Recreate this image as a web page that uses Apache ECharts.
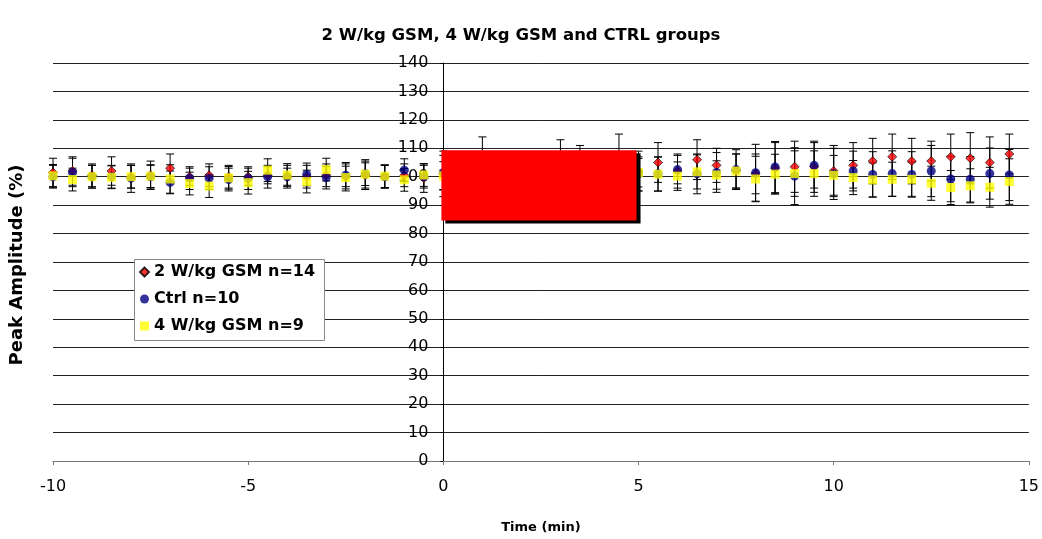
<!DOCTYPE html>
<html>
<head>
<meta charset="utf-8">
<script src="https://cdn.jsdelivr.net/npm/echarts@6/dist/echarts.min.js"></script>
<style>
html,body{margin:0;padding:0;background:#fff;}
#chart{width:1042px;height:539px;}
</style>
</head>
<body>
<div id="chart"></div>
<script>
// ---- data ----
const times = [-10,-9.5,-9,-8.5,-8,-7.5,-7,-6.5,-6,-5.5,-5,-4.5,-4,-3.5,-3,-2.5,-2,-1.5,-1,-0.5,
               0,0.5,1,1.5,2,2.5,3,3.5,4,4.5,5,5.5,6,6.5,7,7.5,8,8.5,9,9.5,
               10,10.5,11,11.5,12,12.5,13,13.5,14,14.5];
const gsm2 = [101.5,102,100.5,102,100,100.5,103,100,100.5,100,100,100.5,100,100,100.5,100,100.5,100,100.5,99.5,
              101,102,104,101,101,102,104,103,102,105,102,105,102,106,104,102,101,103,103.5,103.5,
              102,104,105.5,107,105.5,105.5,107,106.5,105,108];
const gsm2Err = [5,5,4,5,4,5,5,3,4,4,3,3,3,4,4,5,5,4,4,5,
                 8,6,10,5,6,6,9,8,6,10,7,7,6,7,6,6,7,9,9,9,
                 9,8,8,8,8,7,8,9,9,7];
const ctrl = [100,101.5,100,100,99.5,100,98,99.5,99.5,99,99.5,100,100,100.8,99.7,100.5,101,100,102.3,100,
              101.5,100,101,100.5,101,100,101.5,100.5,101,100.5,101,101,102.5,101,101.5,102.5,101.4,103.4,100.2,104,
              101,102,100.8,101.1,100.8,102,99.2,99.1,101.1,100.6];
const ctrlErr = [4,5,4,4,5,4,4,4,4,4,4,4,4,4,4,4,5,4,4,4,
                 6,5,5,5,6,5,6,5,6,6,6,6,5,7,7,7,10,9,10,8,
                 9,7,8,8,8,9,8,8,9,9];
const gsm4 = [100.3,99,100,99.8,100,100.2,99.2,97.6,96.7,99.6,97.9,102.3,100.6,98.3,102.5,99.7,100.9,100.2,98.9,100.6,
              100.3,100,101,100.5,100,101,100.5,101,100.5,101,101.4,100.9,100.2,101.7,100.6,102,99.2,100.9,101.1,101.1,
              100.5,99.7,98.9,99.1,99.1,97.7,96.2,96.8,96.3,98.3];
const gsm4Err = [4,4,4,4,4,4,5,4,4,4,4,4,4,4,4,4,4,4,4,4,
                 5,5,5,5,5,5,5,5,5,5,5,6,5,6,5,6,8,7,8,8,
                 7,6,6,6,6,6,6,6,7,8];
const seriesNames = ['2 W/kg GSM n=14','Ctrl n=10','4 W/kg GSM n=9'];
const stimX = [-0.05, 4.95];
const stimY = [84.6, 109.3];
const yTicks = [0,140,10];
const xTicks = [-10,15,5];

const FONT = '"DejaVu Sans", "Liberation Sans", Arial, sans-serif';
const GRID = {left:53, right:13, top:63, bottom:73};
const W = 1042;
const gridW = W - GRID.left - GRID.right;
const yAxisOffset = -gridW * (0 - xTicks[0]) / (xTicks[1] - xTicks[0]);

function errRender(params, api){
  const x = api.value(0), y = api.value(1), e = api.value(2);
  const top = api.coord([x, y + e]);
  const bot = api.coord([x, y - e]);
  const hw = 4;
  const st = {stroke:'#000', lineWidth:1};
  return {type:'group', children:[
    {type:'line', shape:{x1:top[0], y1:top[1], x2:bot[0], y2:bot[1]}, style:st},
    {type:'line', shape:{x1:top[0]-hw, y1:top[1], x2:top[0]+hw, y2:top[1]}, style:st},
    {type:'line', shape:{x1:bot[0]-hw, y1:bot[1], x2:bot[0]+hw, y2:bot[1]}, style:st}
  ]};
}
function errData(v, e){ return times.map((t,i)=>[t, v[i], e[i]]); }
function ptData(v){ return times.map((t,i)=>[t, v[i]]); }

const chart = echarts.init(document.getElementById('chart'));
chart.setOption({
  animation:false,
  backgroundColor:'#fff',
  title:{
    text:'2 W/kg GSM, 4 W/kg GSM and CTRL groups',
    left:'center', top:22,
    textStyle:{fontFamily:FONT, fontSize:16.5, fontWeight:'bold', color:'#000'}
  },
  grid:GRID,
  legend:{
    data:seriesNames,
    orient:'vertical',
    left:139, top:263,
    padding:0,
    itemWidth:9, itemHeight:9, itemGap:9,
    textStyle:{fontFamily:FONT, fontSize:16, fontWeight:'bold', color:'#000', lineHeight:18},
    z:6
  },
  xAxis:{
    type:'value', min:xTicks[0], max:xTicks[1], interval:xTicks[2],
    axisLine:{show:true, onZero:false, lineStyle:{color:'#777', width:1}},
    axisTick:{show:true, length:4, lineStyle:{color:'#777'}},
    axisLabel:{fontFamily:FONT, fontSize:16, color:'#000', margin:18},
    splitLine:{show:false},
    name:'Time (min)', nameLocation:'middle', nameGap:60,
    nameTextStyle:{fontFamily:FONT, fontSize:13, fontWeight:'bold', color:'#000'}
  },
  yAxis:{
    type:'value', min:yTicks[0], max:yTicks[1], interval:yTicks[2],
    position:'left', offset:yAxisOffset,
    axisLine:{show:true, onZero:false, lineStyle:{color:'#000', width:1}},
    axisTick:{show:true, length:3, lineStyle:{color:'#000'}},
    axisLabel:{fontFamily:FONT, fontSize:16, color:'#000', margin:15},
    splitLine:{show:true, lineStyle:{color:'#222', width:1}}
  },
  graphic:[
    {
      type:'text', x:17, y:265, rotation:Math.PI/2,
      style:{text:'Peak Amplitude (%)', font:'bold 18px ' + FONT, fill:'#000', align:'center', verticalAlign:'middle'},
      z:10
    },
    {
      type:'rect', shape:{x:134.5, y:259.5, width:190, height:81},
      style:{fill:'#fff', stroke:'#888', lineWidth:1},
      z:5
    }
  ],
  series:[
    {type:'custom', name:'err1', renderItem:errRender, data:errData(gsm2, gsm2Err), z:2, silent:true},
    {type:'custom', name:'err2', renderItem:errRender, data:errData(ctrl, ctrlErr), z:2, silent:true},
    {type:'custom', name:'err3', renderItem:errRender, data:errData(gsm4, gsm4Err), z:2, silent:true},
    {type:'scatter', name:seriesNames[0], data:ptData(gsm2), symbol:'diamond', symbolSize:9,
     itemStyle:{color:'#ff0000', borderColor:'#000', borderWidth:0.8}, z:3},
    {type:'scatter', name:seriesNames[1], data:ptData(ctrl), symbol:'circle', symbolSize:9,
     itemStyle:{color:'#000080'}, z:4},
    {type:'scatter', name:seriesNames[2], data:ptData(gsm4), symbol:'rect', symbolSize:9,
     itemStyle:{color:'#ffff00'}, z:4.5},
    {type:'custom', name:'stim', silent:true, z:4.8,
     data:[[stimX[0], stimY[1], stimX[1], stimY[0]]],
     renderItem:function(params, api){
       const p1 = api.coord([api.value(0), api.value(1)]);
       const p2 = api.coord([api.value(2), api.value(3)]);
       const w = p2[0]-p1[0], h = p2[1]-p1[1];
       return {type:'group', children:[
         {type:'rect', shape:{x:p1[0]+4, y:p1[1]+3, width:w, height:h}, style:{fill:'#000'}},
         {type:'rect', shape:{x:p1[0], y:p1[1], width:w, height:h}, style:{fill:'#ff0000'}}
       ]};
     }}
  ]
});
</script>
</body>
</html>
